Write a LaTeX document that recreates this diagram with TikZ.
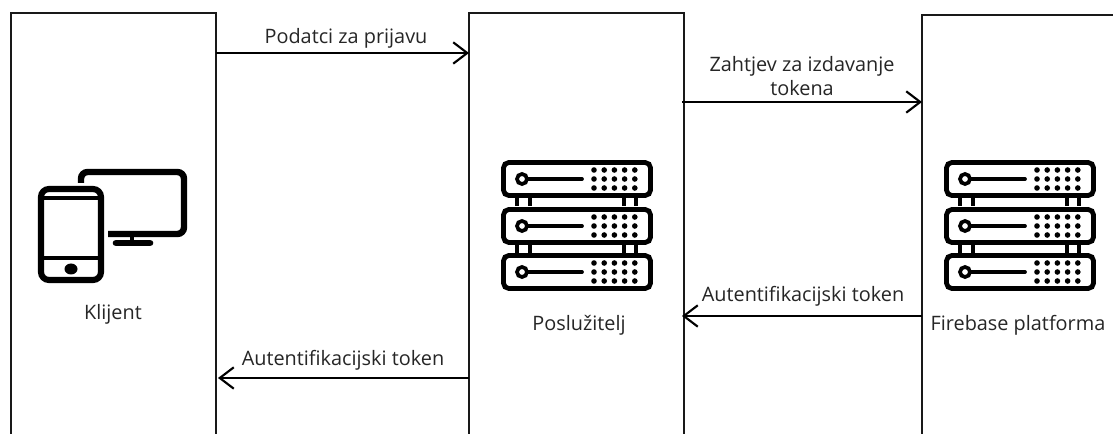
\documentclass[tikz,border=0pt]{standalone}
\usepackage{fontspec}
\setmainfont{Open Sans}
\usetikzlibrary{arrows.meta}
\tikzset{
  x=0.75pt,y=-0.75pt,
  frameline/.style={line width=1.9pt,draw=black!90},
  msg/.style={line width=1.5pt,draw=black,-{Straight Barb[length=10.5pt,width=16pt,line width=1.6pt]}},
  lab/.style={inner sep=0pt,font=\fontsize{14.9pt}{17.6pt}\selectfont,text=black!85,align=center},
  iconthin/.style={line width=3.6pt,draw=black,rounded corners=4pt},
}
\newcommand{\serverrow}[2]{%
  \draw[iconthin] (#1+2.5,#2+2.5) rectangle (#1+149.5,#2+35.5);
  \draw[line width=2.8pt] (#1+21,#2+19) circle[radius=5];
  \draw[line width=2.8pt,line cap=round] (#1+26,#2+19) -- (#1+81,#2+19);
  \foreach \i in {0,1,2,3,4}{\foreach \j in {0,1,2}{
    \fill (#1+93+\i*10.2,#2+10+\j*9) circle[radius=2.8];}}
}
\newcommand{\serverlink}[2]{%
  \draw[line width=3pt] (#1,#2) -- (#1,#2+10);
}
\newcommand{\servericon}[2]{%
  \foreach \k in {#1+16,#1+29,#1+123,#1+135}{
    \serverlink{\k}{#2+36}\serverlink{\k}{#2+83}}
  \serverrow{#1}{#2}\serverrow{#1}{#2+47}\serverrow{#1}{#2+93}
}
\begin{document}
\begin{tikzpicture}
\useasboundingbox (0,0) rectangle (1113,434);
\fill[white] (0,0) rectangle (1113,434);
% lifelines
\coordinate (kt) at (11,13);
\coordinate (ku) at (216,13);
\coordinate (pl) at (469,13);
\coordinate (pr) at (684,13);
\coordinate (fl) at (922,15);
\draw[frameline] (11,434) -- (kt) -- (ku) -- (216,434);
\draw[frameline] (469,434) -- (pl) -- (pr) -- (684,434);
\draw[frameline] (922,434) -- (fl) -- (1113,15);
% arrow ends
\coordinate (a1s) at (216,53);
\coordinate (a1e) at (469,53);
\coordinate (a2s) at (682,102);
\coordinate (a2e) at (922,102);
\coordinate (a3s) at (922,316);
\coordinate (a3e) at (682,316);
\coordinate (a4s) at (469,378);
\coordinate (a4e) at (218,378);
\draw[msg] (a1s) -- (a1e);
\draw[msg] (a2s) -- (a2e);
\draw[msg] (a3s) -- (a3e);
\draw[msg] (a4s) -- (a4e);
% labels
\node[lab] (l1) at (346,38) {Podatci za prijavu};
\node[lab] (l2) at (802,76) {Zahtjev za izdavanje\\tokena};
\node[lab] (l3) at (803,296) {Autentifikacijski token};
\node[lab] (l4) at (343,360) {Autentifikacijski token};
\node[lab] (klijent) at (113,314) {Klijent};
\node[lab] (posluzitelj) at (579,325) {Poslužitelj};
\node[lab] (firebase) at (1018,325) {Firebase platforma};
% client icon: monitor
\draw[line width=4.8pt,rounded corners=5pt] (81,183) -- (81,172) -- (184,172) -- (184,234) -- (108,234);
\draw[line width=3.6pt] (132,236) -- (132,242);
\draw[line width=5pt,line cap=round] (116,243) -- (150,243);
% client icon: phone
\draw[line width=4.6pt,rounded corners=6pt] (41,189) rectangle (101,280);
\draw[line width=3.6pt] (41,198) -- (101,198);
\draw[line width=3.6pt] (41,258) -- (101,258);
\fill (71,269) ellipse[x radius=6.5,y radius=5.5];
% server icons
\servericon{501}{160}
\servericon{944}{160}
\end{tikzpicture}
\end{document}
